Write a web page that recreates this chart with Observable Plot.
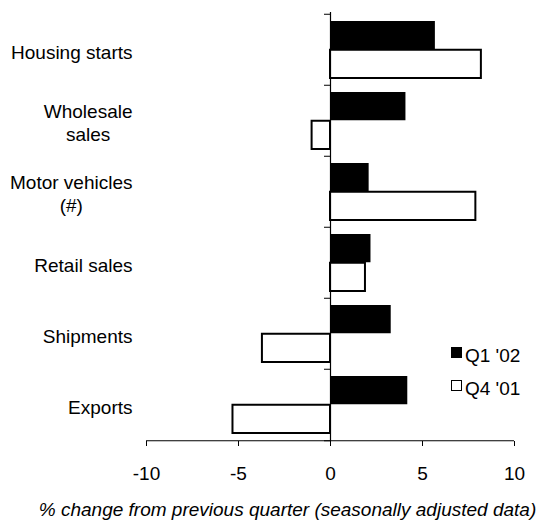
<!DOCTYPE html>
<html>
<head>
<meta charset="utf-8">
<script src="https://cdn.jsdelivr.net/npm/d3@7"></script>
<script src="https://cdn.jsdelivr.net/npm/@observablehq/plot@0.6"></script>
<style>
  html, body { margin: 0; padding: 0; background: #fff; }
  #wrap { position: relative; width: 545px; height: 520px; overflow: hidden;
          font-family: "Liberation Sans", Arial, sans-serif; color: #000; }
  .cap { position: absolute; left: 0; width: 545px; text-align: center; top: 500px;
         font-size: 19px; line-height: 19px; font-style: italic; padding-left: 30px; box-sizing: border-box; }
  .leg { position: absolute; left: 451px; font-size: 19px; line-height: 19px; }
  .leg .sw { position: absolute; left: 0; width: 11px; height: 11px; box-sizing: border-box; }
  .leg .tx { position: absolute; left: 14px; white-space: nowrap; }
</style>
</head>
<body>
<div id="wrap"></div>
<script>
// ---- data ----
const categories = ["Housing starts", "Wholesale\nsales", "Motor vehicles\n(#)", "Retail sales", "Shipments", "Exports"];
const q1_02 = [5.7, 4.1, 2.1, 2.2, 3.3, 4.2];
const q4_01 = [8.2, -1.0, 7.9, 1.9, -3.7, -5.3];
const seriesNames = ["Q1 '02", "Q4 '01"];
const xTicks = [-10, -5, 0, 5, 10];
const xDomain = [-10, 10];
const caption = "% change from previous quarter (seasonally adjusted data)";

const rows = categories.map((c, i) => ({category: c, q1: q1_02[i], q4: q4_01[i]}));

// ---- layout ----
const W = 545, H = 495, mt = 12, mb = 54, ml = 146, mr = 31;
const half = (H - mt - mb) / categories.length / 2;
const gap = 7;

const plot = Plot.plot({
  width: W, height: H,
  marginTop: mt, marginBottom: mb, marginLeft: ml, marginRight: mr,
  style: {fontFamily: "'Liberation Sans', Arial, sans-serif", fontSize: "19px", color: "#000", background: "#fff"},
  x: {domain: xDomain},
  y: {domain: categories, padding: 0, axis: null},
  marks: [
    Plot.barX(rows, {y: "category", x1: 0, x2: "q1", fill: "#000", insetTop: gap, insetBottom: half}),
    Plot.barX(rows, {y: "category", x1: 0, x2: "q4", fill: "#fff", stroke: "#000", strokeWidth: 2, insetTop: half, insetBottom: gap}),
    Plot.ruleX([0], {stroke: "#000", strokeWidth: 1.2}),
    Plot.ruleY(categories, {y: d => d, x1: 0, x2: 0, insetLeft: -6, dy: -half, stroke: "#000"}),
    Plot.ruleY(categories.slice(-1), {y: d => d, x1: xDomain[0], x2: xDomain[1], dy: half, stroke: "#000"}),
    Plot.ruleY(categories.slice(-1), {y: d => d, x1: 0, x2: 0, insetLeft: -6, dy: half, stroke: "#000"}),
    Plot.text(categories, {y: d => d, text: d => d, frameAnchor: "left", textAnchor: "end", dx: -14, dy: 1,
      fontSize: 19, fill: "#000", lineHeight: 1.25}),
    Plot.axisX({ticks: xTicks, tickFormat: d => String(d), tickSize: 5, tickPadding: 20, fontSize: 19,
      label: null, stroke: "#000"})
  ]
});

const wrap = document.getElementById("wrap");
wrap.appendChild(plot);

// center multi-line category labels on their own width (right edge stays put)
plot.querySelectorAll('g[aria-label="text"] text').forEach(t => {
  const spans = t.querySelectorAll("tspan");
  if (spans.length < 2) return;
  const bb = t.getBBox();
  t.setAttribute("text-anchor", "middle");
  t.style.textAnchor = "middle";
  spans.forEach(s => s.setAttribute("x", bb.x + bb.width / 2));
});

// legend
const legendStyles = [
  {fill: "#000", border: "1px solid #000", top: 347},
  {fill: "#fff", border: "1.5px solid #000", top: 380}
];
seriesNames.forEach((name, i) => {
  const g = document.createElement("div");
  g.className = "leg";
  g.style.top = legendStyles[i].top + "px";
  const sw = document.createElement("div");
  sw.className = "sw";
  sw.style.background = legendStyles[i].fill;
  sw.style.border = legendStyles[i].border;
  sw.style.top = "0px";
  const tx = document.createElement("div");
  tx.className = "tx";
  tx.style.top = "-1px";
  tx.textContent = name;
  g.appendChild(sw); g.appendChild(tx);
  wrap.appendChild(g);
});

const cap = document.createElement("div");
cap.className = "cap";
cap.textContent = caption;
wrap.appendChild(cap);
</script>
</body>
</html>
